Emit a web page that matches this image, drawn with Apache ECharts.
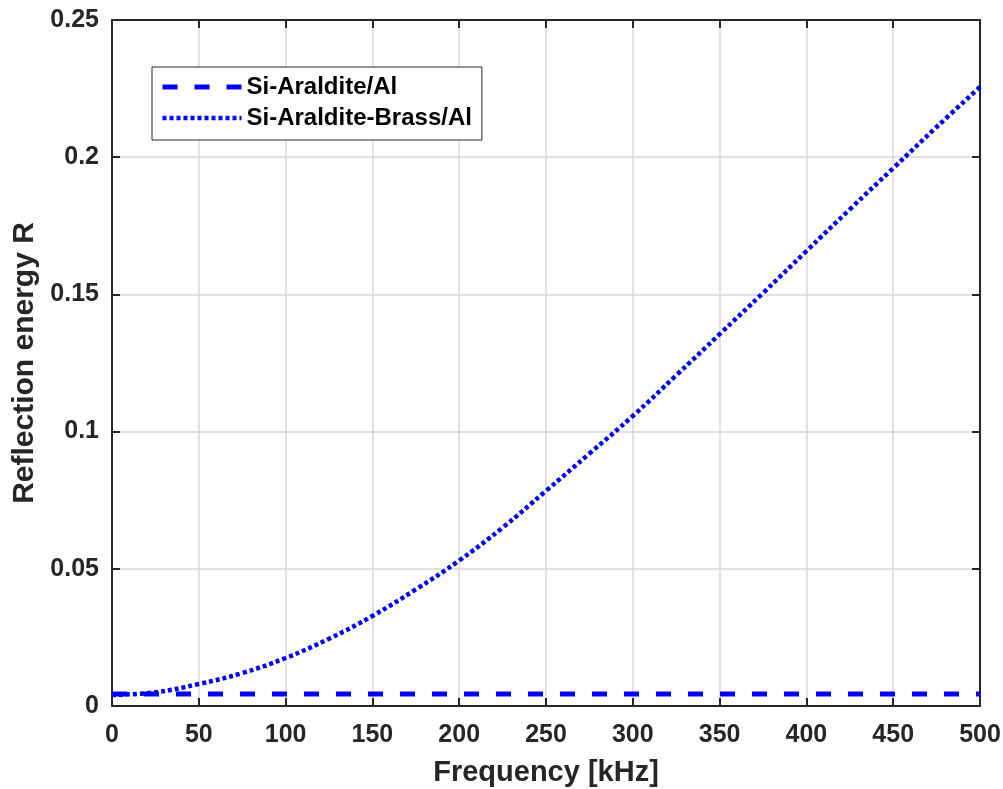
<!DOCTYPE html>
<html>
<head>
<meta charset="utf-8">
<script src="https://cdn.jsdelivr.net/npm/echarts@6/dist/echarts.min.js"></script>
<style>
html,body{margin:0;padding:0;background:#fff;}
#chart{width:1003px;height:789px;}
</style>
</head>
<body>
<div id="chart"></div>
<script>
// Data
var freqBrass = [0, 25, 50, 75, 100, 125, 150, 175, 200, 225, 250, 275, 300, 325, 350, 375, 400, 425, 450, 475, 500];
var reflBrass = [0.0040, 0.0050, 0.0080, 0.0120, 0.0175, 0.0245, 0.0328, 0.0425, 0.0530, 0.0650, 0.0784, 0.0920, 0.1057, 0.1205, 0.1355, 0.1505, 0.1658, 0.1810, 0.1960, 0.2110, 0.2256];
var freqAl = [0, 500];
var reflAl = [0.0044, 0.0044];
var seriesNames = ['Si-Araldite/Al', 'Si-Araldite-Brass/Al'];
var xTitle = 'Frequency [kHz]';
var yTitle = 'Reflection energy R';

function pairs(xs, ys) { return xs.map(function (x, i) { return [x, ys[i]]; }); }

var FONT = "'Liberation Sans', Arial, sans-serif";
var TXT = '#262626';
var BLUE = '#0000ff';
var dashStyle = {color: BLUE, width: 5, type: [15, 17], cap: 'butt'};
var dotStyle = {color: BLUE, width: 4.5, type: [4, 3], cap: 'butt'};

var chart = echarts.init(document.getElementById('chart'), null, {renderer: 'canvas'});

var axisLine = {show: true, onZero: false, lineStyle: {color: TXT, width: 2}};
var tick = {show: true, inside: true, length: 8, lineStyle: {color: TXT, width: 2}};

chart.setOption({
  animation: false,
  backgroundColor: '#fff',
  grid: {left: 112, right: 23, top: 20, bottom: 83, containLabel: false, outerBoundsMode: 'none'},
  legend: {
    orient: 'vertical',
    left: 152, top: 67,
    padding: [7, 10, 9, 8],
    itemWidth: 79, itemHeight: 14, itemGap: 5,
    backgroundColor: '#fff',
    borderColor: TXT, borderWidth: 1, borderRadius: 0,
    itemStyle: {opacity: 0},
    textStyle: {fontFamily: FONT, fontWeight: 'bold', fontSize: 24, color: '#000', lineHeight: 26},
    data: [
      {name: seriesNames[0], lineStyle: dashStyle, itemStyle: {opacity: 0}},
      {name: seriesNames[1], lineStyle: dotStyle, itemStyle: {opacity: 0}}
    ]
  },
  xAxis: [{
    type: 'value', min: 0, max: 500, interval: 50, position: 'bottom',
    name: xTitle, nameLocation: 'middle', nameGap: 52,
    nameTextStyle: {fontFamily: FONT, fontWeight: 'bold', fontSize: 29, color: TXT},
    axisLine: axisLine, axisTick: tick,
    axisLabel: {margin: 17, fontFamily: FONT, fontWeight: 'bold', fontSize: 25, color: TXT},
    splitLine: {show: true, lineStyle: {color: '#d9d9d9', width: 1.5}}
  }, {
    type: 'value', min: 0, max: 500, interval: 50, position: 'top',
    axisLine: axisLine, axisTick: tick, axisLabel: {show: false}, splitLine: {show: false}
  }],
  yAxis: [{
    type: 'value', min: 0, max: 0.25, interval: 0.05, position: 'left',
    name: yTitle, nameLocation: 'middle', nameGap: 69, nameRotate: 90,
    nameTextStyle: {fontFamily: FONT, fontWeight: 'bold', fontSize: 30, color: TXT},
    axisLine: axisLine, axisTick: tick,
    axisLabel: {margin: 13, fontFamily: FONT, fontWeight: 'bold', fontSize: 25, color: TXT},
    splitLine: {show: true, lineStyle: {color: '#d9d9d9', width: 1.5}}
  }, {
    type: 'value', min: 0, max: 0.25, interval: 0.05, position: 'right',
    axisLine: axisLine, axisTick: tick, axisLabel: {show: false}, splitLine: {show: false}
  }],
  series: [{
    name: seriesNames[0], type: 'line', xAxisIndex: 0, yAxisIndex: 0,
    data: pairs(freqAl, reflAl), symbol: 'none', color: BLUE,
    lineStyle: dashStyle
  }, {
    name: seriesNames[1], type: 'line', xAxisIndex: 0, yAxisIndex: 0,
    data: pairs(freqBrass, reflBrass), symbol: 'none', smooth: 0.4, color: BLUE,
    lineStyle: dotStyle
  }]
});
</script>
</body>
</html>
